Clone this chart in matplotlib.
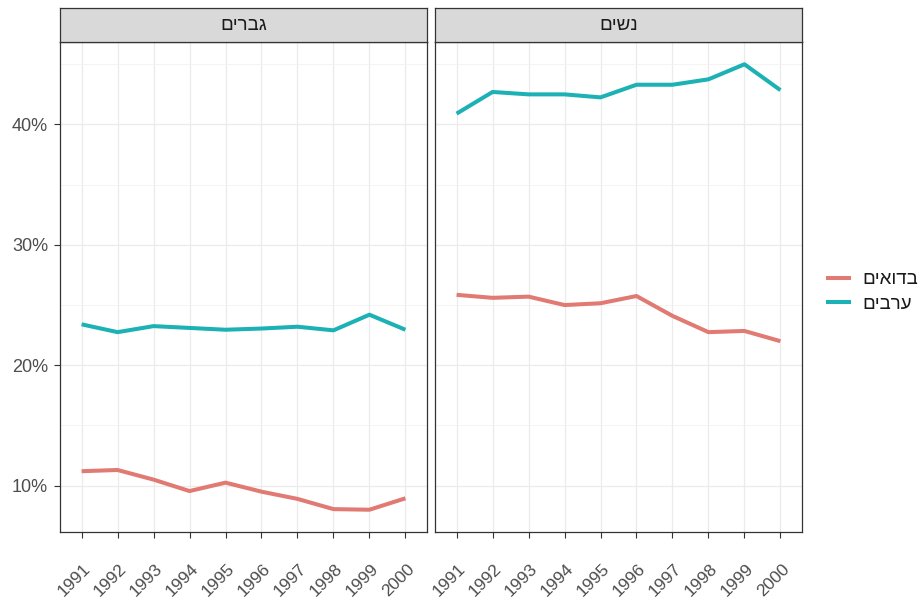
import matplotlib
matplotlib.use("Agg")
import matplotlib.pyplot as plt
from matplotlib.lines import Line2D
from matplotlib.transforms import ScaledTranslation

plt.rcParams["font.family"] = ["Liberation Sans", "DejaVu Sans"]

# data (percent)
years = [1991, 1992, 1993, 1994, 1995, 1996, 1997, 1998, 1999, 2000]
men_bedouin = [11.2, 11.3, 10.5, 9.55, 10.25, 9.5, 8.9, 8.05, 8.0, 8.95]
men_arab = [23.4, 22.75, 23.25, 23.1, 22.95, 23.05, 23.2, 22.9, 24.2, 22.95]
women_bedouin = [25.85, 25.6, 25.7, 25.0, 25.15, 25.75, 24.1, 22.75, 22.85, 22.0]
women_arab = [40.9, 42.7, 42.5, 42.5, 42.25, 43.3, 43.3, 43.75, 45.0, 42.85]

panel_titles = ["גברים", "נשים"]
group_names = ["בדואים", "ערבים"]
group_colors = ["#E07A72", "#1CB1B4"]

y_major = [10, 20, 30, 40]
y_minor = [15, 25, 35, 45]


def rtl(s):
    # matplotlib has no bidi support, so flip hebrew strings by hand
    return s[::-1]


fig = plt.figure(figsize=(9.21, 6), dpi=100)
W, H = 921, 600
panel_x = [60, 435]
panel_w = 367
top, bottom = 42, 532
strip_top = 8

data = [(men_bedouin, men_arab), (women_bedouin, women_arab)]
grid_col = "#EBEBEB"
border_col = "#333333"
text_col = "#4D4D4D"
fs = 13

# ggplot puts the rotated year labels lower than matplotlib would
shift = ScaledTranslation(1 / 100, -29 / 100, fig.dpi_scale_trans)

for i, (x0, title) in enumerate(zip(panel_x, panel_titles)):
    ax = fig.add_axes([x0 / W, 1 - bottom / H, panel_w / W, (bottom - top) / H])
    for vals, col in zip(data[i], group_colors):
        ax.plot(years, vals, color=col, lw=2.9, solid_capstyle="butt", zorder=3)

    ax.set_xlim(years[0] - 0.6, years[-1] + 0.6)
    ax.set_ylim(6.15, 46.85)
    ax.set_xticks(years)
    ax.set_xticklabels([])
    for yr in years:
        ax.text(yr, 0, str(yr), rotation=45, ha="right", va="top",
                rotation_mode="anchor", fontsize=12.5, color=text_col,
                transform=ax.get_xaxis_transform() + shift)
    ax.set_yticks(y_major)
    ax.set_yticks(y_minor, minor=True)
    ax.set_yticklabels([f"{v}%" for v in y_major], fontsize=fs, color=text_col)
    ax.grid(True, which="major", color=grid_col, lw=0.9, zorder=0)
    ax.grid(True, which="minor", axis="y", color="#F3F3F3", lw=0.6, zorder=0)
    ax.tick_params(which="minor", length=0)
    ax.tick_params(which="major", length=4, width=0.8, color=border_col, pad=4.5)
    if i == 1:
        ax.tick_params(axis="y", left=False, labelleft=False)
    for s in ax.spines.values():
        s.set_color(border_col)
        s.set_linewidth(0.9)

    # facet strip
    sx = fig.add_axes([x0 / W, 1 - top / H, panel_w / W, (top - strip_top) / H])
    sx.set_facecolor("#D9D9D9")
    sx.set_xticks([])
    sx.set_yticks([])
    for s in sx.spines.values():
        s.set_color(border_col)
        s.set_linewidth(0.9)
    sx.text(0.5, 0.5, rtl(title), ha="center", va="center", fontsize=13.5,
            color="#1A1A1A", transform=sx.transAxes)

handles = [Line2D([], [], color=c, lw=2.9) for c in group_colors]
fig.legend(handles, [rtl(g) for g in group_names], loc="center left",
           bbox_to_anchor=(828 / W, 1 - 292 / H), frameon=False, borderpad=0,
           borderaxespad=0, fontsize=13.5, handlelength=1.1,
           handletextpad=0.75, labelspacing=0.4, labelcolor="#1A1A1A")

fig.savefig("out.png", dpi=100)
